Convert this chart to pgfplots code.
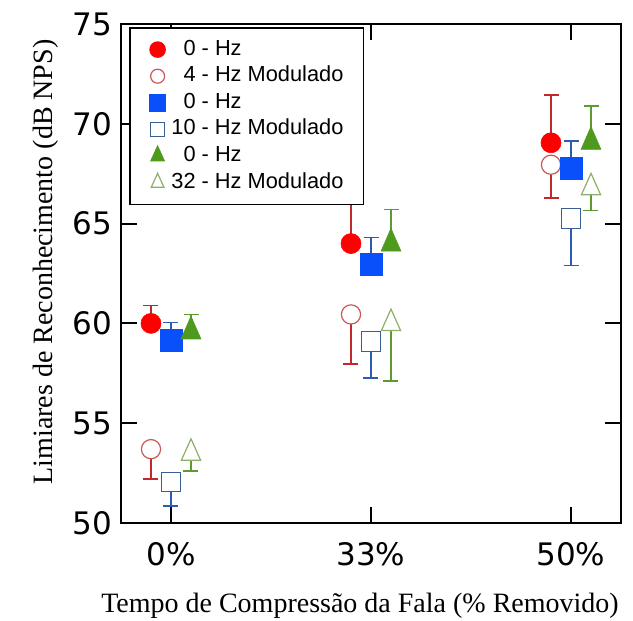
\documentclass[border=0pt]{standalone}
\usepackage{pgfplots}
\pgfplotsset{compat=1.18}
\usepackage{fontspec}
\setmainfont{Liberation Serif}
\newfontfamily\tickfont{DejaVu Sans}
\newfontfamily\legfont{Liberation Sans}
\definecolor{redF}{HTML}{FF0000}
\definecolor{redE}{HTML}{C0282D}
\definecolor{redO}{HTML}{C85858}
\definecolor{blueF}{HTML}{0A50FA}
\definecolor{blueE}{HTML}{2A5CB4}
\definecolor{blueO}{HTML}{3A5F95}
\definecolor{greenF}{HTML}{4E9A1E}
\definecolor{greenE}{HTML}{5E9A2E}
\definecolor{greenO}{HTML}{8DAF6A}
\pgfplotsset{
  ebar/.style 2 args={forget plot, only marks, mark=none, error bars/.cd, y dir=#2, y explicit,
    error bar style={#1, line width=0.85pt},
    error mark options={#1, line width=0.85pt, mark size=3.75pt, rotate=90}, /pgfplots/.cd},
}
\begin{document}
\begin{tikzpicture}
\begin{axis}[name=ax, scale only axis, width=250pt, height=249.5pt,
  xmin=-0.25, xmax=2.25, ymin=50, ymax=75,
  xtick={0,1,2}, xticklabels={0\%,33\%,50\%},
  ytick={50,55,60,65,70,75},
  tick align=inside, major tick length=8pt,
  axis line style={line width=1pt},
  tick style={line width=1pt, black},
  /pgf/number format/assume math mode=true,
  ticklabel style={font=\tickfont\fontsize{15.5}{18}\selectfont},
  xticklabel style={yshift=-6pt},
  yticklabel style={xshift=-1pt},
  xlabel={Tempo de Compressão da Fala (\% Removido)},
  ylabel={Limiares de Reconhecimento (dB NPS)},
  every axis x label/.style={at={(axis description cs:0.478,0)}, anchor=center, yshift=-41.5pt, font=\fontsize{14}{16}\selectfont},
  every axis y label/.style={at={(axis description cs:0,0.523)}, rotate=90, anchor=center, yshift=37.5pt, font=\fontsize{14}{16}\selectfont},
  legend cell align=left,
  legend image code/.code={\path (-5pt,0pt) (5pt,0pt); \draw[#1] plot coordinates {(0pt,0pt)};},
  legend style={at={(rel axis cs:0,1)}, anchor=north west, xshift=4pt, yshift=-1.5pt,
    draw=black, line width=0.8pt, fill=white,
    font=\legfont\fontsize{10.9}{12}\selectfont,
    inner xsep=8.5pt, inner ysep=4.5pt, row sep=0.5pt,
    nodes={inner sep=1.5pt, text height=7.6pt, text depth=2.2pt},
    /tikz/every even column/.append style={column sep=1.2pt}},
  clip=false
]
% error bars first
\addplot[ebar={redE}{plus}]
  coordinates {(-0.1,60.0) +- (0,0.9) (0.9,64.0) +- (0,2.2) (1.9,69.05) +- (0,2.4)};
\addplot[ebar={redE}{minus}]
  coordinates {(-0.1,53.7) +- (0,1.5) (0.9,60.45) +- (0,2.5) (1.9,67.95) +- (0,1.65)};
\addplot[ebar={blueE}{plus}]
  coordinates {(0,59.15) +- (0,0.9) (1,62.95) +- (0,1.35) (2,67.75) +- (0,1.4)};
\addplot[ebar={blueE}{minus}]
  coordinates {(0,52.05) +- (0,1.2) (1,59.1) +- (0,1.85) (2,65.25) +- (0,2.35)};
\addplot[ebar={greenE}{plus}]
  coordinates {(0.1,59.6) +- (0,0.85) (1.1,64.0) +- (0,1.7) (2.1,69.1) +- (0,1.8)};
\addplot[ebar={greenE}{minus}]
  coordinates {(0.1,53.5) +- (0,0.9) (1.1,60.0) +- (0,2.9) (2.1,66.8) +- (0,1.15)};
% open markers
\addplot[forget plot, only marks, mark=*, mark size=4.8pt, mark options={draw=redO, fill=white, line width=0.6pt}]
  coordinates {(-0.1,53.7) (0.9,60.45) (1.9,67.95)};
\addplot[forget plot, only marks, mark=square*, mark size=4.9pt, mark options={draw=blueO, fill=white, line width=0.6pt}]
  coordinates {(0,52.05) (1,59.1) (2,65.25)};
\addplot[forget plot, only marks, mark=triangle*, mark size=6.4pt, mark options={draw=greenO, fill=white, line width=0.6pt, xscale=0.87, yscale=1.12}]
  coordinates {(0.1,53.5) (1.1,60.0) (2.1,66.8)};
% filled markers
\addplot[forget plot, only marks, mark=*, mark size=5pt, mark options={draw=redF, fill=redF, line width=0.3pt}]
  coordinates {(-0.1,60.0) (0.9,64.0) (1.9,69.05)};
\addplot[forget plot, only marks, mark=square*, mark size=5.5pt, mark options={draw=blueF, fill=blueF, line width=0.3pt}]
  coordinates {(0,59.15) (1,62.95) (2,67.75)};
\addplot[forget plot, only marks, mark=triangle*, mark size=6.6pt, mark options={draw=greenF, fill=greenF, line width=0.3pt, xscale=0.87, yscale=1.15}]
  coordinates {(0.1,59.6) (1.1,64.0) (2.1,69.1)};
% legend
\addlegendimage{only marks, mark=*, mark size=3.75pt, mark options={draw=redF, fill=redF}}
\addlegendentry{\phantom{1}0 - Hz}
\addlegendimage{only marks, mark=*, mark size=3.5pt, mark options={draw=redO, fill=white, line width=0.6pt}}
\addlegendentry{\phantom{1}4 - Hz Modulado}
\addlegendimage{only marks, mark=square*, mark size=4pt, mark options={draw=blueF, fill=blueF}}
\addlegendentry{\phantom{1}0 - Hz}
\addlegendimage{only marks, mark=square*, mark size=3.6pt, mark options={draw=blueO, fill=white, line width=0.6pt}}
\addlegendentry{10 - Hz Modulado}
\addlegendimage{only marks, mark=triangle*, mark size=4.2pt, mark options={draw=greenF, fill=greenF, xscale=0.87, yscale=1.1}}
\addlegendentry{\phantom{1}0 - Hz}
\addlegendimage{only marks, mark=triangle*, mark size=4.2pt, mark options={draw=greenO, fill=white, line width=0.6pt, xscale=0.87, yscale=1.1}}
\addlegendentry{32 - Hz Modulado}
\end{axis}
\pgfresetboundingbox
\path ([xshift=-60.5pt,yshift=-49pt]ax.south west) rectangle ([xshift=6pt,yshift=12pt]ax.north east);
\end{tikzpicture}
\end{document}
